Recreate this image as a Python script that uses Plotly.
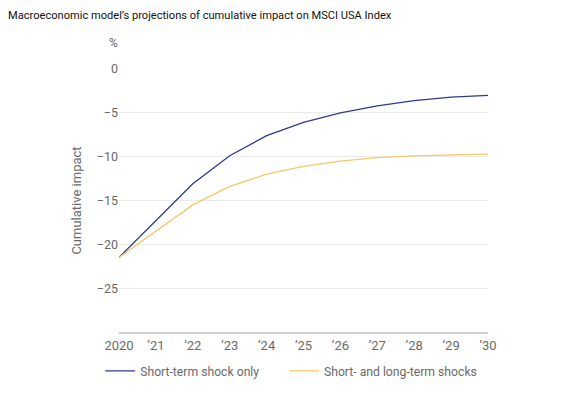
import plotly.graph_objects as go

years = [2020, 2021, 2022, 2023, 2024, 2025, 2026, 2027, 2028, 2029, 2030]
tick_labels = ["2020", "’21", "’22", "’23", "’24", "’25", "’26", "’27", "’28", "’29", "’30"]
short_term = [-21.5, -17.3, -13.1, -9.9, -7.6, -6.1, -5.0, -4.2, -3.6, -3.2, -3.0]
short_long = [-21.5, -18.5, -15.5, -13.4, -12.0, -11.1, -10.5, -10.1, -9.9, -9.8, -9.7]
y_ticks = [0, -5, -10, -15, -20, -25]
y_tick_labels = ["0", "−5", "−10", "−15", "−20", "−25"]

font = "Roboto, 'Open Sans', sans-serif"
gray = "#6a6a6a"

fig = go.Figure()
fig.add_trace(go.Scatter(x=years, y=short_term, mode="lines", name="Short-term shock only",
                         line=dict(color="#2c3a8c", width=1.3), legend="legend"))
fig.add_trace(go.Scatter(x=years, y=short_long, mode="lines", name="Short- and long-term shocks",
                         line=dict(color="#f2c86a", width=1.3), legend="legend2"))

legend_style = dict(orientation="h", xanchor="left", y=-0.148, yanchor="middle",
                    font=dict(size=12.2, color=gray), itemwidth=30, bgcolor="rgba(0,0,0,0)")

fig.update_layout(
    width=559, height=389,
    margin=dict(l=111, r=79, t=61, b=65, autoexpand=False),
    paper_bgcolor="white", plot_bgcolor="white",
    font=dict(family=font, size=13, color=gray),
    title=dict(text="Macroeconomic model’s projections of cumulative impact on MSCI USA Index",
               x=0.0, xanchor="left", y=0.982, yanchor="middle",
               font=dict(size=11.1, color="#111111", family=font)),
    showlegend=True,
    legend=dict(x=-0.051, **legend_style),
    legend2=dict(x=0.447, **legend_style),
    xaxis=dict(range=[2020, 2030], tickmode="array", tickvals=years, ticktext=tick_labels,
               showgrid=False, zeroline=False, showline=True, linecolor="#d0d0d0", linewidth=2,
               ticks="", tickfont=dict(size=13, color=gray), automargin=False),
    yaxis=dict(range=[-30, 0], tickmode="array", tickvals=y_ticks, ticktext=y_tick_labels,
               showgrid=True, gridcolor="#ebebeb", gridwidth=1, zeroline=False,
               ticks="", tickfont=dict(size=12.5, color=gray),
               automargin=False,
               title=dict(text="Cumulative impact", font=dict(size=13, color=gray), standoff=12)),
)
fig.add_annotation(text="%", xref="paper", yref="paper", x=-0.016, y=1.099, showarrow=False,
                   xanchor="center", yanchor="middle", font=dict(size=12, color=gray))

fig.write_html("out.html")
